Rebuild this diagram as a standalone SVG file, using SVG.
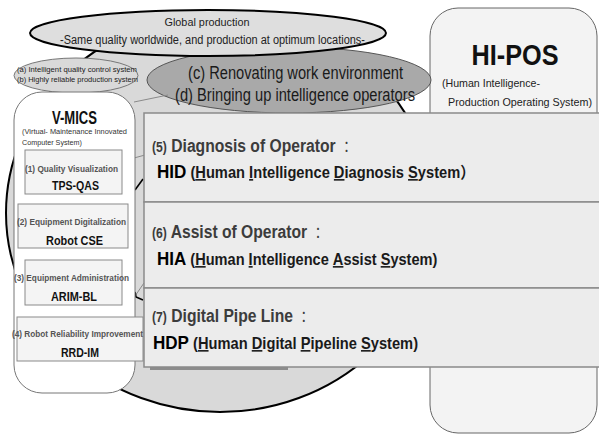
<svg xmlns="http://www.w3.org/2000/svg" width="599" height="437" viewBox="0 0 599 437">
<style>
text{font-family:"Liberation Sans",Arial,"Noto Sans CJK JP",sans-serif}
.sub{fill:#f4f4f4;stroke:#8a8a8a;stroke-width:1}
.lbl{font-size:8.5px;font-weight:bold;fill:#555}
.code{font-size:12px;font-weight:bold;fill:#111}
.band{fill:#ececec;stroke:#8a8a8a;stroke-width:1.5}
.head{font-size:18px;font-weight:bold;fill:#3c3c3c}
.num{font-size:14px}
.col{font-size:15px;font-weight:normal}
.sys{font-size:16px;font-weight:bold;fill:#1a1a1a}
.abbr{font-size:18.6px;fill:#000}
.u{text-decoration:underline}
.thin{stroke:#8a8a8a;stroke-width:1;fill:none}
.blk{stroke:#000;stroke-width:1.6;fill:none}
</style>

<g id="cycle-area">
  <ellipse cx="220" cy="213" rx="214" ry="199" fill="#d9d9d9" stroke="#000" stroke-width="2"/>
</g>

<g id="hi-pos">
  <rect x="430" y="8" width="167" height="425" rx="28" fill="#f3f3f3" stroke="#666" stroke-width="1"/>
  <text x="515" y="65" text-anchor="middle" font-size="29" font-weight="bold" fill="#111" textLength="87" lengthAdjust="spacingAndGlyphs">HI-POS</text>
  <text x="442" y="87" font-size="11" fill="#222" textLength="98" lengthAdjust="spacingAndGlyphs">(Human Intelligence-</text>
  <text x="448" y="106" font-size="11" fill="#222" textLength="144" lengthAdjust="spacingAndGlyphs">Production Operating System)</text>
</g>

<g id="cd-ellipse">
  <ellipse cx="289" cy="80" rx="142" ry="33" fill="#a9a9a9" stroke="#555" stroke-width="1"/>
  <text x="188" y="79" font-size="17.5" fill="#1a1a1a" textLength="215" lengthAdjust="spacingAndGlyphs">(c) Renovating work environment</text>
  <text x="175" y="101" font-size="17.5" fill="#1a1a1a" textLength="240" lengthAdjust="spacingAndGlyphs">(d) Bringing up intelligence operators</text>
</g>

<g id="global-production">
  <ellipse cx="208" cy="33" rx="178" ry="23" fill="#dedede" stroke="#000" stroke-width="2"/>
  <text x="207" y="26" text-anchor="middle" font-size="11.5" fill="#222" textLength="85" lengthAdjust="spacingAndGlyphs">Global production</text>
  <text x="60" y="44" font-size="12" fill="#222" textLength="305" lengthAdjust="spacingAndGlyphs">-Same quality worldwide, and production at optimum locations-</text>
</g>

<g id="ab-ellipse">
  <ellipse cx="76" cy="75.5" rx="62" ry="17.5" fill="#d9d9d9" stroke="#777" stroke-width="1"/>
  <text x="17" y="72" font-size="7.5" fill="#222" textLength="120" lengthAdjust="spacingAndGlyphs">(a) Intelligent quality control system</text>
  <text x="17" y="82" font-size="7.5" fill="#222" textLength="121" lengthAdjust="spacingAndGlyphs">(b) Highly reliable production system</text>
</g>

<g id="connectors">
  <line class="thin" x1="134" y1="102" x2="168" y2="95"/>
  <line class="thin" x1="134" y1="158" x2="145" y2="155"/>
  <line class="thin" x1="135" y1="296" x2="144" y2="283"/>
  <path class="blk" d="M135 190 L143 179"/>
  <path class="blk" d="M135 292 L136 297 L143 300"/>
</g>

<g id="box5">
  <rect class="band" x="144" y="113" width="470" height="89"/>
  <text class="head" transform="translate(152 152) scale(0.87 1)"><tspan class="num">(5)</tspan> Diagnosis of Operator <tspan class="col">：</tspan></text>
  <text class="sys" transform="translate(157 178) scale(0.917 1)"><tspan class="abbr">HID</tspan> (<tspan class="u">H</tspan>uman <tspan class="u">I</tspan>ntelligence <tspan class="u">D</tspan>iagnosis <tspan class="u">S</tspan>ystem）</text>
</g>

<g id="box6">
  <rect class="band" x="144" y="202" width="470" height="86"/>
  <text class="head" transform="translate(152 238) scale(0.87 1)"><tspan class="num">(6)</tspan> Assist of Operator <tspan class="col">：</tspan></text>
  <text class="sys" transform="translate(157 265) scale(0.912 1)"><tspan class="abbr">HIA</tspan> (<tspan class="u">H</tspan>uman <tspan class="u">I</tspan>ntelligence <tspan class="u">A</tspan>ssist <tspan class="u">S</tspan>ystem)</text>
</g>

<g id="box7">
  <rect x="150" y="366" width="138" height="4" fill="#8c8c8c"/>
  <rect class="band" x="144" y="288" width="470" height="79"/>
  <text class="head" transform="translate(152 322) scale(0.87 1)"><tspan class="num">(7)</tspan> Digital Pipe Line <tspan class="col">：</tspan></text>
  <text class="sys" transform="translate(153 349) scale(0.917 1)"><tspan class="abbr">HDP</tspan> (<tspan class="u">H</tspan>uman <tspan class="u">D</tspan>igital <tspan class="u">P</tspan>ipeline <tspan class="u">S</tspan>ystem)</text>
</g>

<g id="v-mics">
  <rect x="14" y="92" width="121" height="301" rx="28" fill="#fff" stroke="#777" stroke-width="1"/>
  <text x="74.5" y="124" text-anchor="middle" font-size="19" font-weight="bold" fill="#111" textLength="45" lengthAdjust="spacingAndGlyphs">V-MICS</text>
  <text x="22" y="134" font-size="7.5" fill="#333" textLength="105" lengthAdjust="spacingAndGlyphs">(Virtual- Maintenance Innovated</text>
  <text x="22" y="145" font-size="7.5" fill="#333" textLength="60" lengthAdjust="spacingAndGlyphs">Computer System)</text>
</g>

<g id="tps-qas">
  <rect class="sub" x="25" y="150" width="97" height="44"/>
  <text class="lbl" x="25" y="172" textLength="93" lengthAdjust="spacingAndGlyphs">(1) Quality Visualization</text>
  <text class="code" x="75.5" y="190" text-anchor="middle" textLength="47" lengthAdjust="spacingAndGlyphs">TPS-QAS</text>
</g>

<g id="robot-cse">
  <rect class="sub" x="18" y="204" width="110" height="44"/>
  <text class="lbl" x="17" y="225" textLength="109" lengthAdjust="spacingAndGlyphs">(2) Equipment Digitalization</text>
  <text class="code" x="74.5" y="245" text-anchor="middle" textLength="57" lengthAdjust="spacingAndGlyphs">Robot CSE</text>
</g>

<g id="arim-bl">
  <rect class="sub" x="25" y="260" width="97" height="45"/>
  <text class="lbl" x="14" y="281" textLength="115" lengthAdjust="spacingAndGlyphs">(3) Equipment Administration</text>
  <text class="code" x="74" y="301" text-anchor="middle" textLength="46" lengthAdjust="spacingAndGlyphs">ARIM-BL</text>
</g>

<g id="rrd-im">
  <rect class="sub" x="17" y="317" width="126" height="44"/>
  <text class="lbl" x="12" y="337" textLength="131" lengthAdjust="spacingAndGlyphs">(4) Robot Reliability Improvement</text>
  <text class="code" x="80" y="357" text-anchor="middle" textLength="38" lengthAdjust="spacingAndGlyphs">RRD-IM</text>
</g>
</svg>
